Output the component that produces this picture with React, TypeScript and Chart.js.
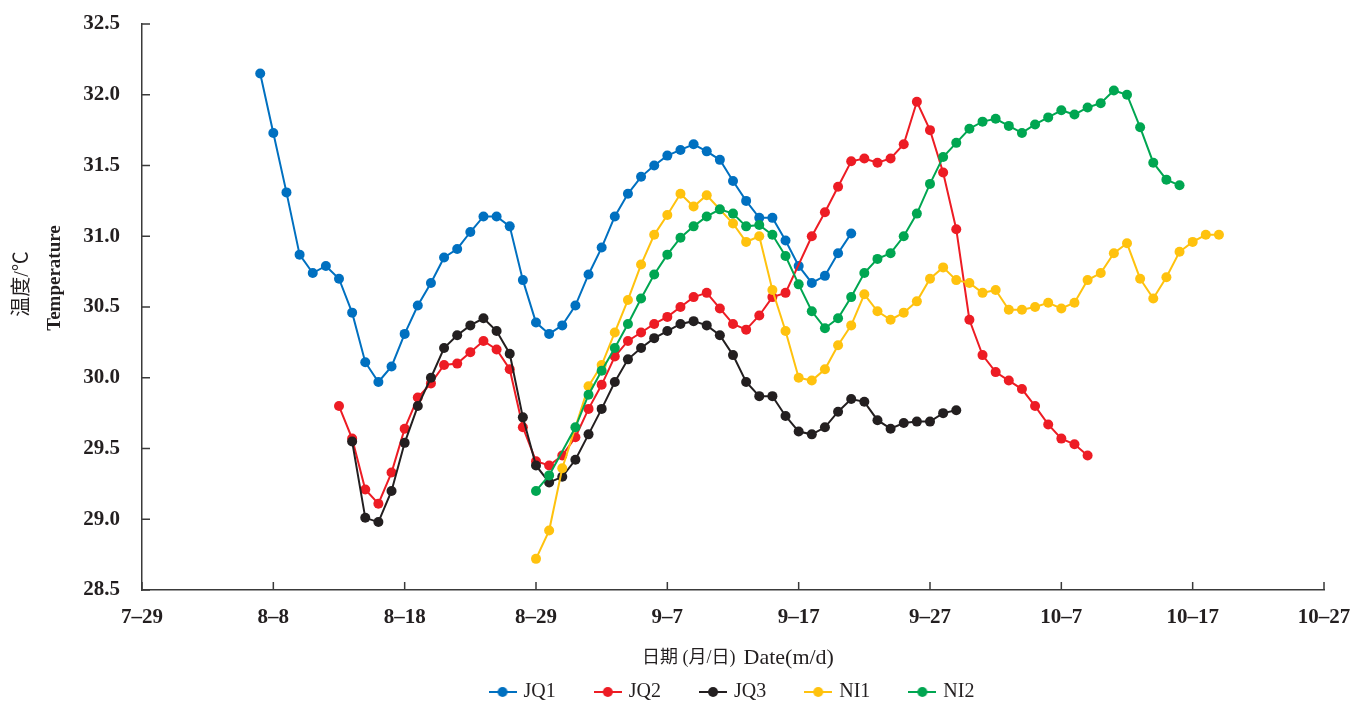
import React, { useEffect, useRef } from 'react';
import { Chart, registerables } from 'chart.js';

Chart.register(...registerables);

// x values are days counted from 7-29
const xTickLabels = ['7–29', '8–8', '8–18', '8–29', '9–7', '9–17', '9–27', '10–7', '10–17', '10–27'];
const yTickMin = 28.5;
const yTickMax = 32.5;

const seriesNames = ['JQ1', 'JQ2', 'JQ3', 'NI1', 'NI2'];
const seriesColors = ['#0070C0', '#ED1C24', '#231F20', '#FFC20E', '#00A651'];
const seriesStartDay = [9, 15, 16, 30, 30];

const jq1 = [
  32.15, 31.73, 31.31, 30.87, 30.74, 30.79, 30.70, 30.46, 30.11, 29.97,
  30.08, 30.31, 30.51, 30.67, 30.85, 30.91, 31.03, 31.14, 31.14, 31.07,
  30.69, 30.39, 30.31, 30.37, 30.51, 30.73, 30.92, 31.14, 31.30, 31.42,
  31.50, 31.57, 31.61, 31.65, 31.60, 31.54, 31.39, 31.25, 31.13, 31.13,
  30.97, 30.79, 30.67, 30.72, 30.88, 31.02,
];

const jq2 = [
  29.80, 29.57, 29.21, 29.11, 29.33, 29.64, 29.86, 29.96, 30.09, 30.10,
  30.18, 30.26, 30.20, 30.06, 29.65, 29.41, 29.38, 29.45, 29.58, 29.78,
  29.95, 30.15, 30.26, 30.32, 30.38, 30.43, 30.50, 30.57, 30.60, 30.49,
  30.38, 30.34, 30.44, 30.57, 30.60, null, 31.00, 31.17, 31.35, 31.53,
  31.55, 31.52, 31.55, 31.65, 31.95, 31.75, 31.45, 31.05, 30.41, 30.16,
  30.04, 29.98, 29.92, 29.80, 29.67, 29.57, 29.53, 29.45,
];

const jq3 = [
  29.55, 29.01, 28.98, 29.20, 29.54, 29.80, 30.00, 30.21, 30.30, 30.37,
  30.42, 30.33, 30.17, 29.72, 29.38, 29.26, 29.30, 29.42, 29.60, 29.78,
  29.97, 30.13, 30.21, 30.28, 30.33, 30.38, 30.40, 30.37, 30.30, 30.16,
  29.97, 29.87, 29.87, 29.73, 29.62, 29.60, 29.65, 29.76, 29.85, 29.83,
  29.70, 29.64, 29.68, 29.69, 29.69, 29.75, 29.77,
];

const ni1 = [
  28.72, 28.92, 29.36, null, 29.94, 30.09, 30.32, 30.55, 30.80, 31.01,
  31.15, 31.30, 31.21, 31.29, null, 31.09, 30.96, 31.00, 30.62, 30.33,
  30.00, 29.98, 30.06, 30.23, 30.37, 30.59, 30.47, 30.41, 30.46, 30.54,
  30.70, 30.78, 30.69, 30.67, 30.60, 30.62, 30.48, 30.48, 30.50, 30.53,
  30.49, 30.53, 30.69, 30.74, 30.88, 30.95, 30.70, 30.56, 30.71, 30.89,
  30.96, 31.01, 31.01,
];

const ni2 = [
  29.20, 29.31, null, 29.65, 29.88, 30.05, 30.21, 30.38, 30.56, 30.73,
  30.87, 30.99, 31.07, 31.14, 31.19, 31.16, 31.07, 31.08, 31.01, 30.86,
  30.66, 30.47, 30.35, 30.42, 30.57, 30.74, 30.84, 30.88, 31.00, 31.16,
  31.37, 31.56, 31.66, 31.76, 31.81, 31.83, 31.78, 31.73, 31.79, 31.84,
  31.89, 31.86, 31.91, 31.94, 32.03, 32.00, 31.77, 31.52, 31.40, 31.36,
];

const seriesValues = [jq1, jq2, jq3, ni1, ni2];

const TEXT = '#231F20';
const AXIS = '#3a3a3a';
const SERIF = '"Liberation Serif", "Noto Sans CJK SC", serif';

function legendIcon(color: string): HTMLCanvasElement {
  const c = document.createElement('canvas');
  c.width = 28;
  c.height = 12;
  const g = c.getContext('2d')!;
  g.strokeStyle = color;
  g.lineWidth = 2;
  g.beginPath();
  g.moveTo(0, 6);
  g.lineTo(28, 6);
  g.stroke();
  g.fillStyle = color;
  g.beginPath();
  g.arc(14, 6, 5, 0, Math.PI * 2);
  g.fill();
  return c;
}

const decorPlugin = {
  id: 'decor',
  afterDraw(chart: any) {
    const { ctx, chartArea, scales } = chart;
    const xs = scales.x;
    const ys = scales.y;
    ctx.save();
    // inner tick marks
    ctx.strokeStyle = AXIS;
    ctx.lineWidth = 1.5;
    ctx.beginPath();
    xs.ticks.forEach((_t: any, i: number) => {
      const px = xs.getPixelForTick(i);
      ctx.moveTo(px, chartArea.bottom);
      ctx.lineTo(px, chartArea.bottom - 8);
    });
    ys.ticks.forEach((_t: any, i: number) => {
      const py = ys.getPixelForTick(i);
      ctx.moveTo(chartArea.left, py);
      ctx.lineTo(chartArea.left + 8, py);
    });
    ctx.stroke();

    ctx.fillStyle = TEXT;
    ctx.textBaseline = 'middle';

    // x axis title
    const p1 = '日期 (月/日)';
    const p2 = 'Date(m/d)';
    const f1 = '18px ' + SERIF;
    const f2 = '22px ' + SERIF;
    ctx.font = f1;
    const w1 = ctx.measureText(p1).width;
    ctx.font = f2;
    const w2 = ctx.measureText(p2).width;
    const gap = 8;
    const cx = (chartArea.left + chartArea.right) / 2 + 5;
    const ty = chartArea.bottom + 68;
    const sx = cx - (w1 + gap + w2) / 2;
    ctx.textAlign = 'left';
    ctx.font = f1;
    ctx.fillText(p1, sx, ty);
    ctx.font = f2;
    ctx.fillText(p2, sx + w1 + gap, ty);

    // y axis titles
    const cy = (chartArea.top + chartArea.bottom) / 2;
    ctx.textAlign = 'center';
    ctx.save();
    ctx.translate(23, cy - 23);
    ctx.rotate(-Math.PI / 2);
    ctx.font = '20px ' + SERIF;
    ctx.fillText('温度/℃', 0, 0);
    ctx.restore();
    ctx.save();
    ctx.translate(55, cy - 29);
    ctx.rotate(-Math.PI / 2);
    ctx.font = 'bold 19px ' + SERIF;
    ctx.fillText('Temperature', 0, 0);
    ctx.restore();

    ctx.restore();
  },
};

export default function App() {
  const ref = useRef<HTMLCanvasElement>(null);

  useEffect(() => {
    const canvas = ref.current;
    if (!canvas) return;
    const icons = seriesColors.map(legendIcon);
    const datasets = seriesValues.map((vals, s) => ({
      label: seriesNames[s],
      data: vals.map((v, i) => ({ x: seriesStartDay[s] + i, y: v })),
      borderColor: seriesColors[s],
      backgroundColor: seriesColors[s],
      pointBackgroundColor: seriesColors[s],
      pointBorderColor: seriesColors[s],
      borderWidth: 2,
      pointRadius: 5,
      pointBorderWidth: 0,
      pointHoverRadius: 5,
      spanGaps: true,
      tension: 0,
      order: seriesValues.length - s,
    }));

    const chart = new Chart(canvas, {
      type: 'line',
      data: { datasets: datasets as any },
      plugins: [decorPlugin],
      options: {
        animation: false,
        responsive: false,
        events: [],
        layout: { autoPadding: false, padding: { left: 0, right: 30, top: 24, bottom: 0 } },
        font: { family: SERIF },
        plugins: {
          tooltip: { enabled: false },
          legend: {
            position: 'bottom',
            fullSize: false,
            labels: {
              color: TEXT,
              font: { family: SERIF, size: 20 },
              usePointStyle: true,
              pointStyleWidth: 22,
              padding: 41,
              sort: (a: any, b: any) => a.datasetIndex - b.datasetIndex,
              generateLabels: (ch: any) => {
                const items = (Chart.defaults.plugins.legend.labels as any).generateLabels(ch);
                return items.map((it: any) => ({ ...it, pointStyle: icons[it.datasetIndex] }));
              },
            },
          },
        },
        scales: {
          x: {
            type: 'linear',
            min: 0,
            max: 90,
            grid: { display: false, drawTicks: false },
            border: { display: true, color: AXIS, width: 1.5 },
            ticks: {
              stepSize: 10,
              autoSkip: false,
              maxRotation: 0,
              color: TEXT,
              padding: 15,
              font: { family: SERIF, size: 21, weight: 'bold' },
              callback: (v: any) => xTickLabels[Math.round(Number(v) / 10)] ?? '',
            },
            afterFit: (scale: any) => {
              scale.height = 51;
              scale.paddingLeft = 0;
              scale.paddingRight = 0;
            },
          },
          y: {
            type: 'linear',
            min: yTickMin,
            max: yTickMax,
            grid: { display: false, drawTicks: false },
            border: { display: true, color: AXIS, width: 1.5 },
            ticks: {
              stepSize: 0.5,
              color: TEXT,
              padding: 22,
              font: { family: SERIF, size: 21, weight: 'bold' },
              callback: (v: any) => Number(v).toFixed(1),
            },
            afterFit: (scale: any) => {
              scale.width = 142;
              scale.paddingTop = 0;
              scale.paddingBottom = 0;
            },
          },
        },
      } as any,
    });

    return () => {
      chart.destroy();
    };
  }, []);

  return (
    <div style={{ position: 'fixed', left: 0, top: 0, width: 1354, height: 712 }}>
      <canvas ref={ref} width={1354} height={712} style={{ display: 'block' }} />
    </div>
  );
}
